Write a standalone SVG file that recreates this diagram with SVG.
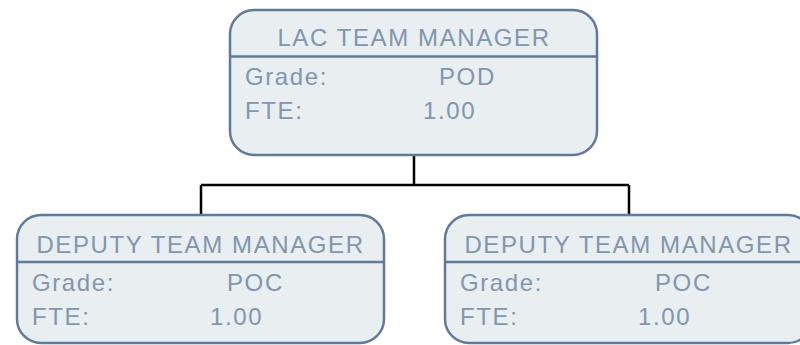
<svg xmlns="http://www.w3.org/2000/svg" width="800" height="345" viewBox="0 0 800 345">
<style>
.box{fill:#e9eef1;stroke:#627a99;stroke-width:2.5}
.div{stroke:#627a99;stroke-width:2.5}
.t{font-family:"Liberation Sans",Arial,sans-serif;font-size:24px;fill:#8296ad;letter-spacing:1.6px}
.c{fill:none;stroke:#000;stroke-width:2.5}
</style>
<rect width="800" height="345" fill="#fff"/>
<g id="connectors">
<path class="c" d="M414 155V185M201 185H629M201 185V215M629 185V215"/>
</g>
<g id="node-lac">
<rect class="box" x="230" y="10" width="367" height="145" rx="24"/>
<line class="div" x1="230" y1="56.5" x2="597" y2="56.5"/>
<text class="t" x="414" y="46" text-anchor="middle">LAC TEAM MANAGER</text>
<text class="t" x="245" y="85">Grade:</text>
<text class="t" x="439" y="85">POD</text>
<text class="t" x="245" y="119">FTE:</text>
<text class="t" x="423" y="119">1.00</text>
</g>
<g id="node-deputy1">
<rect class="box" x="17" y="215" width="367" height="128" rx="24"/>
<line class="div" x1="17" y1="262" x2="384" y2="262"/>
<text class="t" x="200.5" y="253" text-anchor="middle">DEPUTY TEAM MANAGER</text>
<text class="t" x="32" y="291">Grade:</text>
<text class="t" x="227" y="291">POC</text>
<text class="t" x="32" y="325">FTE:</text>
<text class="t" x="210" y="325">1.00</text>
</g>
<g id="node-deputy2">
<rect class="box" x="445" y="215" width="367" height="128" rx="24"/>
<line class="div" x1="445" y1="262" x2="812" y2="262"/>
<text class="t" x="628.5" y="253" text-anchor="middle">DEPUTY TEAM MANAGER</text>
<text class="t" x="460" y="291">Grade:</text>
<text class="t" x="655" y="291">POC</text>
<text class="t" x="460" y="325">FTE:</text>
<text class="t" x="638" y="325">1.00</text>
</g>
</svg>
